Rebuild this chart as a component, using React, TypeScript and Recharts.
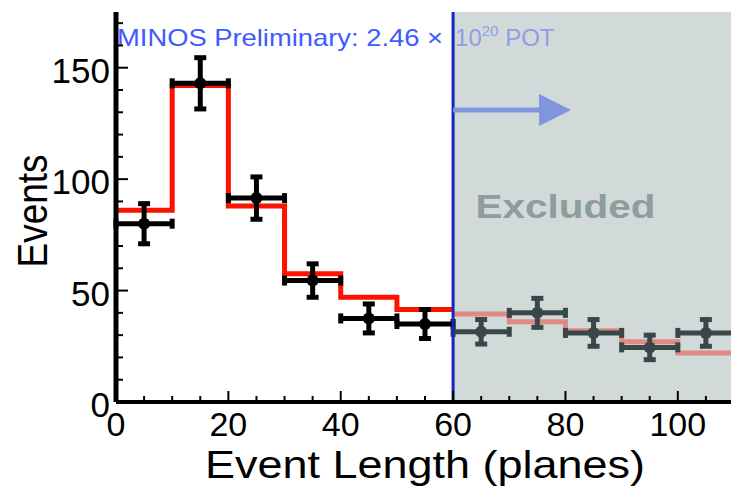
import React from 'react'
import {
  ComposedChart,
  XAxis,
  YAxis,
  Line,
  Scatter,
  ErrorBar,
  ReferenceArea,
  ReferenceLine,
  ReferenceDot,
} from 'recharts'

// event length histogram, 10-plane bins
const BIN_EDGES = [0, 10, 20, 30, 40, 50, 60, 70, 80, 90, 100, 110]
const BIN_CENTERS = [5, 15, 25, 35, 45, 55, 65, 75, 85, 95, 105]
const MC_EVENTS = [86, 142, 88, 57.5, 47, 41.5, 39.5, 36, 32, 27, 22]
const DATA_EVENTS = [80, 143, 91.5, 54.5, 37.5, 35, 31.5, 40, 31, 24.5, 31]
const DATA_ERRORS = [9, 11.5, 9.5, 7.5, 6.5, 6.5, 5.5, 6.5, 6, 5.5, 6]
const BIN_HALF_WIDTH = 5
const CUT_PLANES = 60

const X_TICKS = [0, 5, 10, 15, 20, 25, 30, 35, 40, 45, 50, 55, 60, 65, 70, 75, 80, 85, 90, 95, 100, 105, 110]
const Y_TICKS = [0, 10, 20, 30, 40, 50, 60, 70, 80, 90, 100, 110, 120, 130, 140, 150, 160, 170]
const X_DOMAIN: [number, number] = [0, 110]
const Y_DOMAIN: [number, number] = [0, 175]

const FONT = '"Liberation Sans", Arial, Helvetica, sans-serif'
const RED = '#ff1100'
const FADED_RED = '#e08a84'
const FADED_MARK = '#384848'
const GREY_BG = '#d1d9d9'
const CUT_BLUE = '#1426c0'
const ARROW_BLUE = '#8195df'
const LABEL_BLUE = '#3d5bff'
const LABEL_BLUE_FADED = '#8ea0e4'
const EXCLUDED_TEXT = '#8d9c9c'

// step points for a slice of the MC histogram, closing at the upper edge
const stepPoints = (from: number, to: number) => {
  const pts: { x: number; y: number }[] = []
  MC_EVENTS.forEach((v, i) => {
    if (BIN_EDGES[i] >= from && BIN_EDGES[i] < to) pts.push({ x: BIN_EDGES[i], y: v })
  })
  pts.push({ x: to, y: pts[pts.length - 1].y })
  return pts
}

const dataPoints = BIN_CENTERS.map((x, i) => ({ x, y: DATA_EVENTS[i], ey: DATA_ERRORS[i], ex: BIN_HALF_WIDTH }))

const mcInside = stepPoints(0, CUT_PLANES)
const mcExcluded = stepPoints(CUT_PLANES, 110)
const dataInside = dataPoints.filter((d) => d.x < CUT_PLANES)
const dataExcluded = dataPoints.filter((d) => d.x > CUT_PLANES)

const BottomTick = ({ x, y, payload }: any) => {
  const major = payload.value % 20 === 0
  return (
    <g>
      <line x1={x} x2={x} y1={y} y2={y - (major ? 11 : 6)} stroke="#000" strokeWidth={2} />
      {major ? (
        <text x={x} y={y + 34} textAnchor="middle" fontSize={34} fontFamily={FONT} fill="#000">
          {payload.value}
        </text>
      ) : null}
    </g>
  )
}

const TopTick = ({ x, y, payload }: any) => {
  const major = payload.value % 20 === 0
  return <line x1={x} x2={x} y1={y} y2={y + (major ? 13 : 6)} stroke="#000" strokeWidth={2} />
}

const LeftTick = ({ x, y, payload }: any) => {
  const major = payload.value % 50 === 0
  return (
    <g>
      <line x1={x} x2={x + (major ? 12 : 7)} y1={y} y2={y} stroke="#000" strokeWidth={2} />
      {major ? (
        <text x={x - 6} y={y + 15} textAnchor="end" fontSize={35} fontFamily={FONT} fill="#000">
          {payload.value}
        </text>
      ) : null}
    </g>
  )
}

const RightTick = ({ x, y, payload }: any) => {
  const major = payload.value % 50 === 0
  return <line x1={x} x2={x - (major ? 18 : 9)} y1={y} y2={y} stroke="#000" strokeWidth={2} />
}

const XTitle = ({ viewBox }: any) => (
  <text
    x={viewBox.x + viewBox.width / 2}
    y={viewBox.y + 76}
    textAnchor="middle"
    fontSize={39}
    fontFamily={FONT}
    fill="#000"
    textLength={440}
    lengthAdjust="spacingAndGlyphs"
  >
    Event Length (planes)
  </text>
)

const YTitle = ({ viewBox }: any) => {
  const cx = viewBox.x + 47
  const cy = viewBox.y + viewBox.height / 2 + 4
  return (
    <text
      x={cx}
      y={cy}
      transform={`rotate(-90 ${cx} ${cy})`}
      textAnchor="middle"
      fontSize={42}
      fontFamily={FONT}
      fill="#000"
      textLength={113}
      lengthAdjust="spacingAndGlyphs"
    >
      Events
    </text>
  )
}

const Arrow = ({ x1, y1, x2, y2 }: any) => (
  <g>
    <line x1={x1} y1={y1} x2={x2 - 30} y2={y2} stroke={ARROW_BLUE} strokeWidth={5} />
    <polygon points={`${x2},${y2} ${x2 - 32},${y2 - 16} ${x2 - 32},${y2 + 16}`} fill={ARROW_BLUE} />
  </g>
)

const markShape = (color: string) => (p: any) => <circle cx={p.cx} cy={p.cy} r={6} fill={color} />

export default function App() {
  return (
    <div style={{ position: 'fixed', left: 0, top: 0, width: 731, height: 486, overflow: 'hidden', background: '#fff' }}>
      <ComposedChart width={760} height={486} margin={{ top: 12, right: 26, bottom: 0, left: 0 }}>
        <ReferenceArea x1={CUT_PLANES} x2={110} y1={0} y2={175} fill={GREY_BG} fillOpacity={1} stroke="none" />
        <XAxis
          dataKey="x"
          type="number"
          domain={X_DOMAIN}
          allowDataOverflow
          ticks={X_TICKS}
          interval={0}
          tickSize={0}
          tickMargin={0}
          tickLine={false}
          tick={<BottomTick />}
          axisLine={{ stroke: '#000', strokeWidth: 4 }}
          height={84}
          label={XTitle}
        />
        <XAxis
          xAxisId="top"
          orientation="top"
          dataKey="x"
          type="number"
          domain={X_DOMAIN}
          allowDataOverflow
          ticks={X_TICKS}
          interval={0}
          tickSize={0}
          tickMargin={0}
          tickLine={false}
          tick={<TopTick />}
          axisLine={{ stroke: '#000', strokeWidth: 5 }}
          height={0}
        />
        <YAxis
          type="number"
          domain={Y_DOMAIN}
          allowDataOverflow
          ticks={Y_TICKS}
          interval={0}
          tickSize={0}
          tickMargin={0}
          tickLine={false}
          tick={<LeftTick />}
          axisLine={{ stroke: '#000', strokeWidth: 5 }}
          width={116}
          label={YTitle}
        />
        <YAxis
          yAxisId="right"
          orientation="right"
          type="number"
          domain={Y_DOMAIN}
          allowDataOverflow
          ticks={Y_TICKS}
          interval={0}
          tickSize={0}
          tickMargin={0}
          tickLine={false}
          tick={<RightTick />}
          axisLine={{ stroke: '#000', strokeWidth: 4 }}
          width={0}
        />
        <Line data={mcInside} dataKey="y" type="stepAfter" stroke={RED} strokeWidth={5} dot={false} isAnimationActive={false} />
        <Line data={mcExcluded} dataKey="y" type="stepAfter" stroke={FADED_RED} strokeWidth={5} dot={false} isAnimationActive={false} />
        <Scatter data={dataInside} dataKey="y" shape={markShape('#000')} isAnimationActive={false}>
          <ErrorBar dataKey="ey" direction="y" width={6} strokeWidth={5} stroke="#000" isAnimationActive={false} />
          <ErrorBar dataKey="ex" direction="x" width={5} strokeWidth={5} stroke="#000" isAnimationActive={false} />
        </Scatter>
        <Scatter data={dataExcluded} dataKey="y" shape={markShape(FADED_MARK)} isAnimationActive={false}>
          <ErrorBar dataKey="ey" direction="y" width={6} strokeWidth={5} stroke={FADED_MARK} isAnimationActive={false} />
          <ErrorBar dataKey="ex" direction="x" width={5} strokeWidth={5} stroke={FADED_MARK} isAnimationActive={false} />
        </Scatter>
        <ReferenceLine x={CUT_PLANES} stroke={CUT_BLUE} strokeWidth={3} />
        <ReferenceLine
          segment={[
            { x: CUT_PLANES, y: 131 },
            { x: 81, y: 131 },
          ]}
          shape={Arrow}
        />
        <ReferenceDot
          x={80}
          y={82.5}
          r={0}
          fill="none"
          stroke="none"
          label={({ viewBox }: any) => (
            <text
              x={viewBox.x}
              y={viewBox.y}
              textAnchor="middle"
              fontSize={33}
              fontWeight="bold"
              fontFamily={FONT}
              fill={EXCLUDED_TEXT}
              textLength={180}
              lengthAdjust="spacingAndGlyphs"
            >
              Excluded
            </text>
          )}
        />
        <ReferenceDot
          x={0}
          y={175}
          r={0}
          fill="none"
          stroke="none"
          label={({ viewBox }: any) => (
            <text
              x={viewBox.x + 1}
              y={viewBox.y + 34}
              fontSize={24}
              fontFamily={FONT}
              fill={LABEL_BLUE}
              textLength={326}
              lengthAdjust="spacingAndGlyphs"
            >
              MINOS Preliminary: 2.46 ×
            </text>
          )}
        />
        <ReferenceDot
          x={CUT_PLANES}
          y={175}
          r={0}
          fill="none"
          stroke="none"
          label={({ viewBox }: any) => (
            <text x={viewBox.x + 2} y={viewBox.y + 34} fontSize={24} fontFamily={FONT} fill={LABEL_BLUE_FADED}>
              10
              <tspan fontSize={15} dy={-10}>
                20
              </tspan>
              <tspan dy={10}> POT</tspan>
            </text>
          )}
        />
      </ComposedChart>
    </div>
  )
}
